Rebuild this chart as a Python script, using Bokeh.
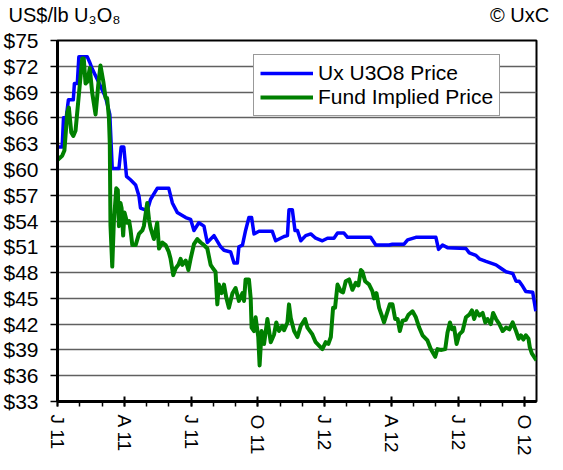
from bokeh.plotting import figure
from bokeh.models import Range1d, FixedTicker, Legend, LegendItem, LinearAxis
from bokeh.embed import file_html
from bokeh.resources import INLINE

# ---- data (months since Jan 2011, US$/lb) ----
ux_month = [0.00, 0.21, 0.27, 0.40, 0.49, 0.71, 0.76, 0.89, 0.96, 1.34, 1.44, 1.56, 1.84, 2.16, 2.35,
            2.46, 2.76, 2.86, 2.98, 3.10, 3.28, 3.51, 3.66, 3.73, 4.03, 4.18, 4.48, 5.00, 5.16, 5.38,
            5.76, 5.98, 6.13, 6.35, 6.58, 6.73, 7.03, 7.33, 7.48, 7.78, 7.93, 8.08, 8.15, 8.31, 8.45,
            8.60, 8.72, 8.83, 9.05, 9.65, 9.80, 10.18, 10.33, 10.40, 10.55, 10.67, 10.78, 10.93, 11.15,
            11.38, 11.60, 11.90, 12.13, 12.42, 12.58, 12.87, 13.03, 14.07, 14.30, 14.90, 15.05, 15.57,
            15.73, 16.10, 17.00, 17.12, 17.30, 17.52, 18.35, 18.50, 18.80, 18.95, 19.25, 19.70, 19.92,
            20.15, 20.45, 20.60, 20.74, 20.90, 21.04, 21.35, 21.49]
ux_price = [62.6, 62.6, 66.0, 66.2, 68.1, 68.1, 70.0, 70.0, 73.1, 73.1, 72.5, 71.7, 70.2, 68.4, 66.4,
            60.1, 60.1, 62.6, 62.6, 59.2, 58.8, 58.2, 56.9, 55.5, 55.2, 56.5, 57.8, 57.8, 56.1, 55.0,
            54.4, 54.2, 52.9, 53.8, 53.4, 51.5, 52.3, 51.0, 50.6, 50.4, 49.1, 49.1, 51.0, 51.2, 52.9,
            54.4, 54.4, 52.5, 52.8, 52.8, 51.7, 52.2, 52.3, 55.3, 55.3, 52.9, 52.9, 51.7, 52.3,
            52.5, 52.0, 51.7, 52.0, 52.0, 52.6, 52.6, 52.1, 52.1, 51.2, 51.2, 51.3, 51.3,
            51.8, 52.1, 52.1, 50.7, 51.2, 50.9, 50.8, 50.3, 50.0, 49.6, 49.3, 48.9, 48.5,
            48.1, 47.9, 47.0, 47.0, 46.4, 45.8, 45.7, 43.5]

fund_month = [0.00, 0.21, 0.31, 0.44, 0.51, 0.62, 0.71, 0.81, 0.96, 1.11, 1.18, 1.26, 1.34, 1.45, 1.56,
              1.71, 1.83, 1.93, 2.06, 2.16, 2.23, 2.31, 2.35, 2.38, 2.46, 2.53, 2.64, 2.71, 2.76, 2.83,
              2.88, 2.95, 3.01, 3.13, 3.22, 3.28, 3.36, 3.51, 3.66, 3.81, 3.88, 4.03, 4.11, 4.18, 4.33,
              4.48, 4.56, 4.71, 4.86, 5.00, 5.08, 5.20, 5.31, 5.43, 5.53, 5.61, 5.76, 5.88, 5.98, 6.13,
              6.28, 6.43, 6.58, 6.73, 6.88, 6.98, 7.10, 7.18, 7.25, 7.37, 7.48, 7.59, 7.70, 7.86, 8.00,
              8.15, 8.31, 8.38, 8.45, 8.60, 8.68, 8.72, 8.83, 8.90, 9.02, 9.08, 9.17, 9.28, 9.43, 9.58,
              9.73, 9.83, 9.95, 10.10, 10.18, 10.33, 10.40, 10.48, 10.63, 10.78, 10.93, 11.12, 11.23,
              11.45, 11.60, 11.75, 11.90, 12.05, 12.17, 12.28, 12.38, 12.47, 12.58, 12.73, 12.83, 12.95,
              13.10, 13.25, 13.40, 13.52, 13.63, 13.70, 13.82, 14.00, 14.15, 14.22, 14.33, 14.45, 14.57,
              14.67, 14.83, 14.93, 15.05, 15.17, 15.28, 15.38, 15.50, 15.65, 15.77, 15.95, 16.10, 16.25,
              16.40, 16.62, 16.77, 16.97, 17.07, 17.22, 17.42, 17.52, 17.63, 17.72, 17.82, 17.93, 18.05,
              18.20, 18.35, 18.50, 18.62, 18.72, 18.83, 18.95, 19.10, 19.22, 19.32, 19.47, 19.57, 19.70,
              19.85, 20.00, 20.15, 20.30, 20.45, 20.60, 20.72, 20.82, 20.93, 21.04, 21.16, 21.22, 21.31,
              21.46, 21.52]
fund_price = [61.1, 61.6, 62.2, 66.6, 67.2, 64.3, 63.9, 64.5, 68.7, 72.9, 72.9, 70.0, 70.2, 71.8, 68.9,
              66.4, 69.8, 72.1, 70.2, 68.3, 68.3, 66.0, 63.0, 53.5, 48.7, 53.8, 57.8, 57.6, 53.4, 56.1,
              55.5, 52.3, 55.0, 53.8, 54.0, 53.0, 51.2, 51.2, 52.5, 52.9, 53.4, 56.1, 54.2, 53.2, 51.9,
              53.8, 50.8, 51.5, 51.2, 50.4, 49.6, 47.7, 48.5, 48.9, 49.6, 48.9, 49.4, 48.3, 49.6, 51.3,
              51.9, 51.5, 51.2, 50.8, 48.9, 48.5, 48.1, 44.3, 46.6, 45.6, 46.6, 45.0, 43.9, 45.6, 46.2,
              44.7, 45.6, 44.7, 47.2, 47.2, 45.0, 41.6, 41.2, 42.8, 40.5, 37.2, 41.2, 39.7, 42.6, 39.9,
              40.8, 42.2, 41.2, 41.8, 41.3, 42.2, 44.3, 42.7, 41.2, 40.5, 41.8, 42.6, 41.6,
              40.8, 39.9, 39.5, 39.1, 39.9, 39.7, 40.5, 43.9, 43.9, 46.6, 45.8, 45.7, 47.0,
              47.2, 46.0, 46.8, 46.5, 48.3, 48.1, 47.0, 46.6, 45.8, 45.0, 45.6, 43.9, 43.0,
              42.2, 43.5, 44.3, 44.3, 42.6, 42.6, 41.2, 42.4, 42.5, 43.1, 43.5, 42.8, 41.6,
              40.7, 40.1, 39.1, 38.2, 39.1, 39.0, 39.1, 41.0, 42.2, 41.4, 41.6, 39.7, 40.8,
              41.2, 42.8, 43.1, 43.6, 42.6, 43.5, 43.0, 43.3, 42.2, 42.6, 42.0, 43.3, 42.6,
              42.0, 41.2, 41.6, 41.4, 42.2, 41.2, 40.3, 40.7, 40.2, 40.7, 40.3, 39.3, 38.6,
              38.0, 37.8]

quarter_ticks = [0, 3, 6, 9, 12, 15, 18, 21]
quarter_labels = ["J 11", "A 11", "J 11", "O 11", "J 12", "A 12", "J 12", "O 12"]
month_ticks = list(range(0, 22))
price_ticks = list(range(33, 76, 3))
header_texts = ["US$/lb U\u2083O\u2088", "© UxC"]

X_END = 21.52
Y_MIN, Y_MAX = 33, 75
FONT = "Liberation Sans"
FRAME_W, FRAME_H = 479, 361

# header text centres: pixel offsets from the frame's left edge, turned into x units
header_px = [7, 462]
header_x = [round(px * X_END / FRAME_W, 4) for px in header_px]

p = figure(frame_width=FRAME_W, frame_height=FRAME_H, output_backend="svg", toolbar_location=None,
           x_range=Range1d(0, X_END), y_range=Range1d(Y_MIN, Y_MAX),
           min_border_left=54, min_border_right=14, min_border_top=36, min_border_bottom=50)
p.title.visible = False
p.background_fill_color = "white"
p.border_fill_color = "white"
p.outline_line_color = "black"
p.outline_line_width = 2

# header line (US$/lb U3O8 ... (c) UxC) drawn as labels of a bare top axis
top = LinearAxis(ticker=FixedTicker(ticks=header_x, minor_ticks=[]),
                 major_label_overrides={x: t for x, t in zip(header_x, header_texts)})
top.axis_line_color = None
top.major_tick_line_color = None
top.minor_tick_line_color = None
top.major_tick_in = 0
top.major_tick_out = 0
top.major_label_standoff = 15
top.major_label_text_font = FONT
top.major_label_text_font_size = "20px"
top.major_label_text_color = "black"
p.add_layout(top, "above")

# bottom axis
xa = p.below[0]
xa.ticker = FixedTicker(ticks=quarter_ticks, minor_ticks=month_ticks)
xa.major_label_overrides = {t: l for t, l in zip(quarter_ticks, quarter_labels)}
xa.major_label_orientation = "vertical"
xa.major_label_text_font = FONT
xa.major_label_text_font_size = "19px"
xa.major_label_text_color = "black"
xa.major_label_standoff = 8
xa.axis_line_width = 3
xa.axis_line_color = "black"
xa.major_tick_in = 5
xa.major_tick_out = 5
xa.major_tick_line_width = 2
xa.minor_tick_in = 0
xa.minor_tick_out = 5
xa.minor_tick_line_width = 1.5

ya = p.yaxis[0]
ya.ticker = FixedTicker(ticks=price_ticks, minor_ticks=[])
ya.major_label_overrides = {t: f"${t}" for t in price_ticks}
ya.major_label_text_font = FONT
ya.major_label_text_font_size = "21px"
ya.major_label_text_color = "black"
ya.major_label_standoff = 12
ya.axis_line_width = 3
ya.axis_line_color = "black"
ya.major_tick_in = 0
ya.major_tick_out = 7
ya.major_tick_line_width = 1.5
ya.minor_tick_line_color = None

p.xgrid.grid_line_color = None
p.ygrid.grid_line_color = "#606060"
p.ygrid.grid_line_width = 1.5

r_ux = p.line(ux_month, ux_price, line_color="#0000FF", line_width=3.5, line_join="round")
r_fund = p.line(fund_month, fund_price, line_color="#008000", line_width=4, line_join="round")

legend = Legend(items=[LegendItem(label="Ux U3O8 Price", renderers=[r_ux]),
                       LegendItem(label="Fund Implied Price", renderers=[r_fund])],
                location=(196, FRAME_H - 76), orientation="vertical")
legend.label_text_font = FONT
legend.label_text_font_size = "21px"
legend.label_text_color = "black"
legend.glyph_width = 53
legend.glyph_height = 20
legend.label_height = 20
legend.label_standoff = 5
legend.padding = 6
legend.spacing = 0
legend.margin = 0
legend.border_line_color = "#333333"
legend.border_line_width = 1
legend.background_fill_color = "white"
legend.background_fill_alpha = 1
p.add_layout(legend, "center")

open("out.html", "w").write(file_html(p, INLINE))
